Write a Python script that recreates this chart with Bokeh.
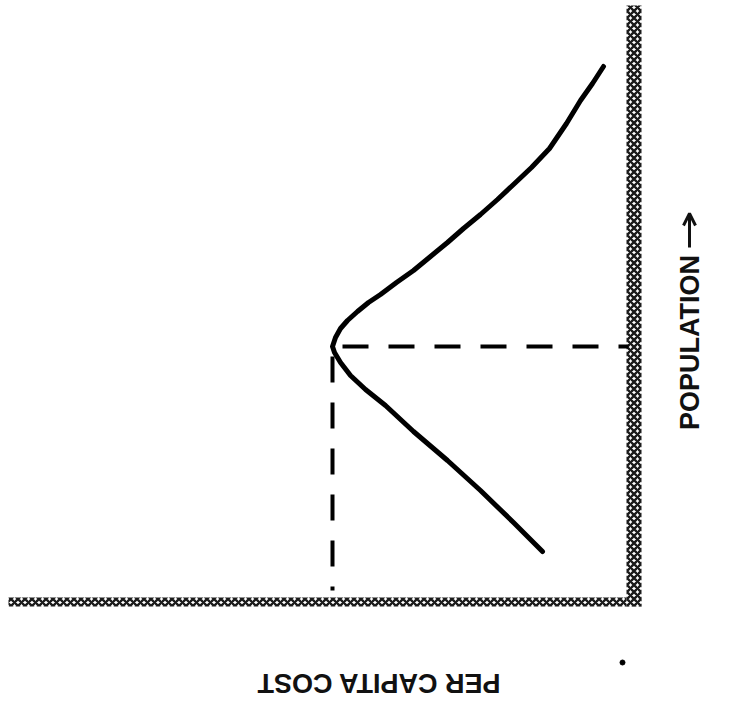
from bokeh.plotting import figure
from bokeh.models import Range1d, Arrow, OpenHead
from bokeh.core.properties import value
from bokeh.embed import file_html
from bokeh.resources import INLINE

# Per capita cost vs population (chart is drawn rotated: population runs up,
# cost runs leftward from the origin at the lower-right corner)
curve_cost = [2.9, 4.0, 5.2, 6.6, 8.3, 10.1, 11.9, 13.5, 15.2, 16.9, 18.5,
              20.2, 21.9, 23.6, 25.2, 26.4, 27.5, 28.5, 29.2, 29.7, 30.0,
              29.8, 29.2, 28.2, 26.7, 24.7, 21.9, 18.5, 15.2, 11.9, 9.0]
curve_pop = [53.6, 51.9, 50.2, 47.9, 45.4, 43.5, 41.8, 40.3, 38.8, 37.4, 36.0,
             34.6, 33.2, 32.0, 30.8, 30.0, 29.1, 28.2, 27.4, 26.5, 25.6,
             25.0, 24.0, 22.7, 21.3, 19.7, 17.1, 14.2, 11.2, 8.0, 5.1]

opt_cost = 30.0
opt_pop = 25.6

cost_label = "PER CAPITA COST"
pop_label = "POPULATION"

W, H = 721, 696
# 1 data unit = 10 px; origin at pixel (632, 602)
x_left = 632 / 10
x_right = (632 - W) / 10
y_bottom = (602 - H) / 10
y_top = 602 / 10

p = figure(width=W, height=H, output_backend="svg", toolbar_location=None,
           x_range=Range1d(x_left, x_right), y_range=Range1d(y_bottom, y_top),
           min_border=0)
p.axis.visible = False
p.grid.visible = False
p.outline_line_color = None
p.background_fill_color = "white"
p.border_fill_color = "white"

# stippled axes bands
band_kw = dict(fill_color="white", line_color=None, hatch_pattern="diagonal_cross",
               hatch_color="#1a1a1a", hatch_scale=7, hatch_weight=2.4)
p.quad(left=[62.4], right=[-0.9], bottom=[-0.4], top=[0.5], **band_kw)
p.quad(left=[0.6], right=[-0.9], bottom=[-0.4], top=[59.7], **band_kw)

# optimum dashed guides
p.line([opt_cost - 1.0, 0.4], [opt_pop, opt_pop], line_color="black",
       line_width=4, line_dash="26 20")
p.line([opt_cost, opt_cost], [opt_pop - 1.0, 1.2], line_color="black",
       line_width=4, line_dash="26 20")

# cost curve
p.line(curve_cost, curve_pop, line_color="black", line_width=5,
       line_cap="round", line_join="round")

# stray dot
p.scatter([1.0], [-6.0], size=5, color="black")

# labels
p.text([25.4], [-8.0], text=[cost_label], angle=3.14159265, text_align="center",
       text_baseline="middle", text_font=value("Liberation Sans"),
       text_font_size="27px", text_font_style="bold", text_color="#111111")
p.text([-5.7], [26.0], text=[pop_label], angle=3.14159265 / 2, text_align="center",
       text_baseline="middle", text_font=value("Liberation Sans"),
       text_font_size="27px", text_font_style="bold", text_color="#111111")
p.add_layout(Arrow(x_start=-5.7, y_start=35.5, x_end=-5.7, y_end=38.9,
                   line_width=3, line_color="#111111",
                   end=OpenHead(size=12, line_width=3, line_color="#111111")))

open("out.html", "w").write(file_html(p, INLINE))
